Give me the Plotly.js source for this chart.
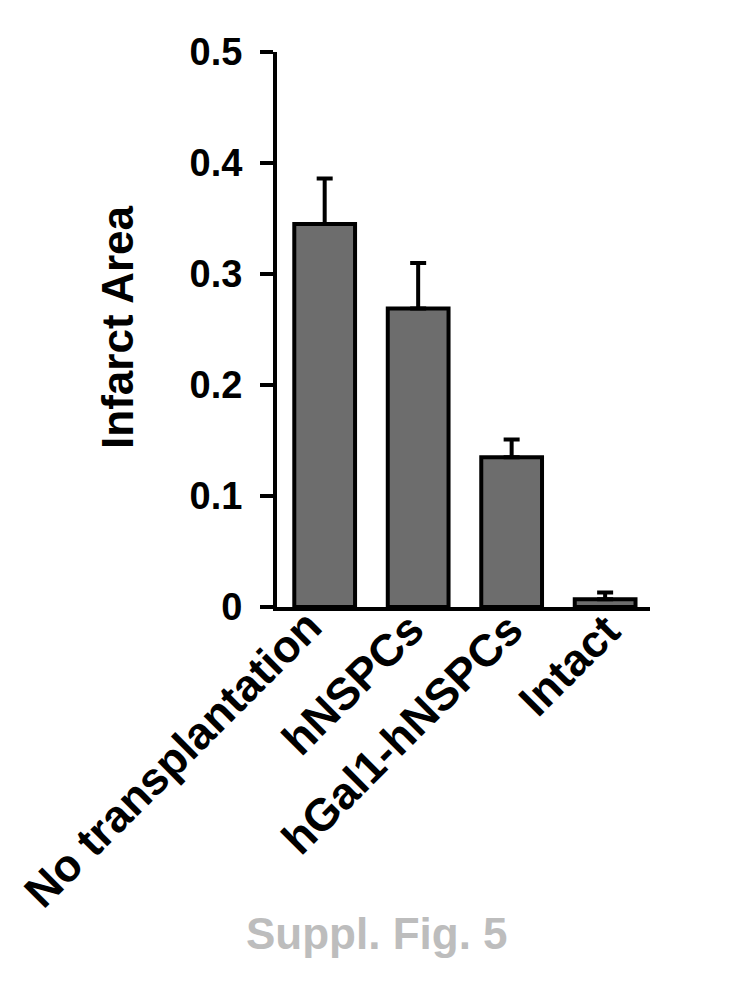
<!DOCTYPE html>
<html>
<head>
<meta charset="utf-8">
<script src="https://cdn.plot.ly/plotly-3.0.1.min.js"></script>
<style>html,body{margin:0;padding:0;background:#fff;}#chart{width:738px;height:1003px;}</style>
</head>
<body>
<div id="chart"></div>
<script>
// ---- data ----
const categories = ["No transplantation", "hNSPCs", "hGal1-hNSPCs", "Intact"];
const infarctArea = [0.345, 0.269, 0.135, 0.007];
const errorUpper = [0.041, 0.041, 0.016, 0.006];
const yTickVals = [0, 0.1, 0.2, 0.3, 0.4, 0.5];
const yTickText = ["0", "0.1", "0.2", "0.3", "0.4", "0.5"];
const yTitle = "Infarct Area";
const caption = "Suppl. Fig. 5";

// ---- layout-only tweaks (label placement) ----
const labelShiftX = [10, 19, 24, 27];
const labelShiftY = [10, 7, 7, 5];

const FONT = "Liberation Sans, Arial, Helvetica, sans-serif";
const idx = categories.map((c, i) => i);

const trace = {
  type: "bar",
  x: idx,
  y: infarctArea,
  width: 0.65,
  marker: { color: "#6d6d6d", line: { color: "#000", width: 4 } },
  error_y: {
    type: "data",
    symmetric: false,
    array: errorUpper,
    arrayminus: errorUpper.map(() => 0),
    color: "#000",
    thickness: 4,
    width: 8
  },
  hoverinfo: "skip"
};

const annotations = categories.map((c, i) => ({
  text: "<b>" + c + "</b>",
  xref: "x", yref: "y",
  x: i, y: 0,
  xanchor: "right", yanchor: "top",
  textangle: -45,
  showarrow: false,
  xshift: labelShiftX[i], yshift: labelShiftY[i],
  font: { family: FONT, size: 45, color: "#000" }
}));
annotations.push({
  text: "<b>" + yTitle + "</b>",
  xref: "paper", yref: "paper",
  x: -0.426, y: 0.503,
  xanchor: "center", yanchor: "middle",
  textangle: -90, showarrow: false,
  font: { family: FONT, size: 44, color: "#000" }
});
annotations.push({
  text: "<b>" + caption + "</b>",
  xref: "paper", yref: "paper",
  x: 0.268, y: -0.589,
  xanchor: "center", yanchor: "middle",
  showarrow: false,
  font: { family: FONT, size: 44, color: "#bdbdbd" }
});

const layout = {
  width: 738, height: 1003,
  margin: { l: 277, r: 88, t: 52, b: 396 },
  paper_bgcolor: "#fff", plot_bgcolor: "#fff",
  showlegend: false,
  xaxis: {
    range: [-0.51, 3.48],
    showticklabels: false, ticks: "",
    showgrid: false, zeroline: false,
    showline: true, linecolor: "#000", linewidth: 4,
    fixedrange: true
  },
  yaxis: {
    range: [0, 0.5],
    tickvals: yTickVals, ticktext: yTickText,
    ticks: "outside", ticklen: 13, tickwidth: 4, tickcolor: "#000",
    ticklabelstandoff: 10,
    tickfont: { family: FONT, size: 38, color: "#000", weight: "bold" },
    showgrid: false, zeroline: false,
    showline: true, linecolor: "#000", linewidth: 4,
    fixedrange: true
  },
  annotations: annotations
};

Plotly.newPlot("chart", [trace], layout, { displayModeBar: false, staticPlot: true });
</script>
</body>
</html>
